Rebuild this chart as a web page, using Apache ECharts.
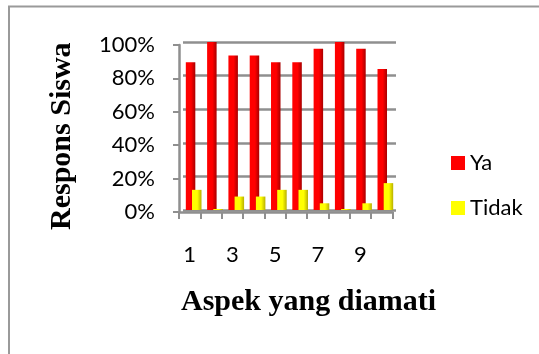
<!DOCTYPE html>
<html>
<head>
<meta charset="utf-8">
<script src="https://cdn.jsdelivr.net/npm/echarts@6/dist/echarts.min.js"></script>
<style>
  html, body { margin: 0; padding: 0; background: #fff; }
  #chart { width: 539px; height: 354px; }
</style>
</head>
<body>
<div id="chart"></div>
<script>
// Aspek yang diamati (1..10)
const categories = ['1', '2', '3', '4', '5', '6', '7', '8', '9', '10'];
// Persentase respons siswa
const yaValues = [88, 100, 92, 92, 88, 88, 96, 100, 96, 84];
const tidakValues = [12, 0, 8, 8, 12, 12, 4, 0, 4, 16];
const yTicks = [0, 20, 40, 60, 80, 100];

const xTitle = 'Aspek yang diamati';
const yTitle = 'Respons Siswa';

const GRID_GRAY = '#8f8f8f';
const LABEL_FONT = { fontFamily: 'Lato', fontSize: 22, color: '#000' };
const TITLE_FONT = 'bold 30px "Liberation Serif"';

const chart = echarts.init(document.getElementById('chart'), null, { renderer: 'canvas' });

// cylinder-like shading: bright face with a darker right edge
function shade(light, dark) {
  return new echarts.graphic.LinearGradient(0, 0, 1, 0, [
    { offset: 0, color: light },
    { offset: 0.55, color: light },
    { offset: 1, color: dark }
  ]);
}

chart.setOption({
  animation: false,
  backgroundColor: '#ffffff',
  graphic: [
    {
      // frame around the chart
      type: 'polyline',
      shape: { points: [[9, 354], [9, 6.5], [539, 6.5]] },
      style: { stroke: '#9a9a9a', lineWidth: 2, fill: null }
    },
    {
      type: 'text',
      left: 181,
      top: 287,
      style: { text: xTitle, font: TITLE_FONT, fill: '#000' }
    },
    {
      type: 'text',
      x: 47,
      y: 230,
      rotation: Math.PI / 2,
      style: { text: yTitle, font: TITLE_FONT, fill: '#000', textAlign: 'left', textVerticalAlign: 'top' }
    }
  ],
  grid: [
    // front: axes, ticks, labels
    { left: 179, top: 45, right: 146.5, bottom: 142 },
    // back wall: gridlines and bars (3D depth offset)
    { left: 183, top: 42, right: 143, bottom: 144 }
  ],
  legend: {
    orient: 'vertical',
    left: 446,
    top: 147,
    itemGap: 23,
    itemWidth: 14,
    itemHeight: 14,
    icon: 'rect',
    textStyle: Object.assign({ lineHeight: 22 }, LABEL_FONT),
    data: [
      { name: 'Ya', itemStyle: { color: '#ff0000' } },
      { name: 'Tidak', itemStyle: { color: '#ffff00' } }
    ]
  },
  xAxis: [
    {
      type: 'category',
      gridIndex: 0,
      data: categories,
      axisLine: { lineStyle: { color: GRID_GRAY, width: 2.5 } },
      axisTick: { show: true, interval: 0, length: 7, lineStyle: { color: GRID_GRAY, width: 2 } },
      axisLabel: Object.assign({ interval: 1, margin: 32 }, LABEL_FONT)
    },
    {
      type: 'category',
      gridIndex: 1,
      data: categories,
      show: false
    }
  ],
  yAxis: [
    {
      type: 'value',
      gridIndex: 0,
      min: 0,
      max: 100,
      interval: 20,
      axisLine: { show: true, lineStyle: { color: GRID_GRAY, width: 2.5 } },
      axisTick: { show: true, length: 6, lineStyle: { color: GRID_GRAY, width: 2 } },
      axisLabel: Object.assign({
        margin: 24,
        formatter: v => (yTicks.indexOf(v) >= 0 ? v + '%' : '')
      }, LABEL_FONT),
      splitLine: { show: false }
    },
    {
      type: 'value',
      gridIndex: 1,
      min: 0,
      max: 100,
      interval: 20,
      axisLine: { show: false },
      axisTick: { show: false },
      axisLabel: { show: false },
      splitLine: { lineStyle: { color: GRID_GRAY, width: 2.5 } }
    }
  ],
  series: [
    {
      name: 'Ya',
      type: 'bar',
      xAxisIndex: 1,
      yAxisIndex: 1,
      data: yaValues,
      barWidth: 9.5,
      barGap: '-35%',
      itemStyle: { color: shade('#ff0000', '#a80000') }
    },
    {
      name: 'Tidak',
      type: 'bar',
      xAxisIndex: 1,
      yAxisIndex: 1,
      data: tidakValues,
      barWidth: 9.5,
      barMinHeight: 1,
      itemStyle: { color: shade('#ffff00', '#b8b000') }
    }
  ]
});
</script>
</body>
</html>
